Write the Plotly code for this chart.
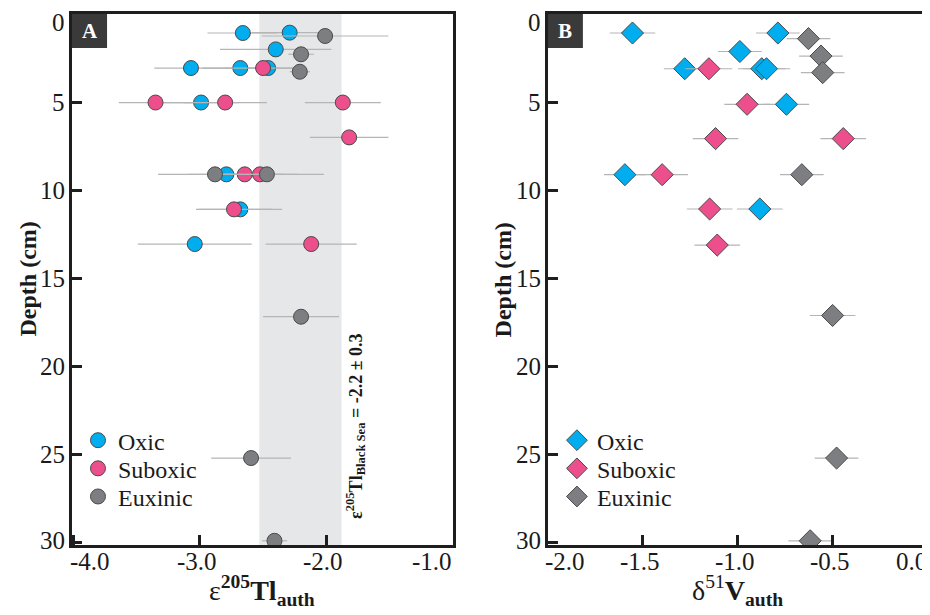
import plotly.graph_objects as go

# ---------------- data ----------------
# Panel A: epsilon205Tl_auth
oxic_A_x = [-2.66, -2.29, -2.40, -3.07, -2.68, -2.46, -2.99, -2.79, -2.68, -3.04]
oxic_A_y = [1.05, 1.03, 1.98, 3.04, 3.04, 3.04, 5.0, 9.08, 11.07, 13.04]
oxic_A_e = [0.28, 0.30, 0.44, 0.29, 0.30, 0.30, 0.30, 0.30, 0.33, 0.45]

subox_A_x = [-2.50, -3.35, -2.80, -1.87, -1.82, -2.645, -2.525, -2.73, -2.12]
subox_A_y = [3.04, 5.0, 5.0, 5.0, 6.98, 9.08, 9.08, 11.07, 13.04]
subox_A_e = [0.30, 0.29, 0.33, 0.30, 0.31, 0.30, 0.30, 0.30, 0.36]

eux_A_x = [-2.01, -2.20, -2.21, -2.88, -2.47, -2.20, -2.595, -2.41]
eux_A_y = [1.22, 2.26, 3.25, 9.08, 9.08, 17.17, 25.2, 29.9]
eux_A_e = [0.50, 0.10, 0.08, 0.45, 0.45, 0.30, 0.315, 0.10]

# Panel B: delta51V_auth
oxic_B_x = [-1.555, -0.79, -0.99, -1.28, -0.875, -0.85, -0.745, -1.595, -0.885]
oxic_B_y = [1.05, 1.05, 2.1, 3.08, 3.08, 3.08, 5.1, 9.1, 11.05]
oxic_B_e = [0.12, 0.115, 0.115, 0.11, 0.125, 0.125, 0.12, 0.11, 0.12]

subox_B_x = [-1.153, -0.952, -1.118, -0.446, -1.399, -1.149, -1.109]
subox_B_y = [3.08, 5.1, 7.05, 7.05, 9.1, 11.05, 13.1]
subox_B_e = [0.123, 0.12, 0.12, 0.12, 0.136, 0.12, 0.12]

eux_B_x = [-0.629, -0.563, -0.554, -0.664, -0.502, -0.481, -0.62]
eux_B_y = [1.37, 2.36, 3.3, 9.1, 17.1, 25.2, 29.9]
eux_B_e = [0.115, 0.115, 0.115, 0.115, 0.12, 0.115, 0.115]

band_center = -2.205
band_half = 0.325

xticks_A = [-4.0, -3.0, -2.0, -1.0]
xticks_B = [-2.0, -1.5, -1.0, -0.5, 0.0]
yticks = [0, 5, 10, 15, 20, 25, 30]

# ---------------- style ----------------
FONT = "Liberation Serif, Times New Roman, serif"
C_OX = "#00AEEF"
C_SUB = "#EC4F8C"
C_EUX = "#7d7e81"
EDGE = "#4a4a4a"
ERRC = "#b5b5b5"
TXT = "#1a1a1a"
TICK_SIZE = 25

fig = go.Figure()

def add(x, y, e, name, color, symbol, size, xa, ya, legend):
    fig.add_trace(go.Scatter(
        x=x, y=y, mode="markers", name=name,
        xaxis=xa, yaxis=ya, legend=legend, showlegend=True,
        marker=dict(color=color, symbol=symbol, size=size,
                    line=dict(color=EDGE, width=1)),
        error_x=dict(type="data", array=e, visible=True,
                     color=ERRC, thickness=1.2, width=0),
    ))

add(oxic_A_x, oxic_A_y, oxic_A_e, "Oxic", C_OX, "circle", 15, "x", "y", "legend")
add(subox_A_x, subox_A_y, subox_A_e, "Suboxic", C_SUB, "circle", 15, "x", "y", "legend2")
add(eux_A_x, eux_A_y, eux_A_e, "Euxinic", C_EUX, "circle", 15, "x", "y", "legend3")

add(oxic_B_x, oxic_B_y, oxic_B_e, "Oxic", C_OX, "diamond", 17, "x2", "y2", "legend4")
add(subox_B_x, subox_B_y, subox_B_e, "Suboxic", C_SUB, "diamond", 17, "x2", "y2", "legend5")
add(eux_B_x, eux_B_y, eux_B_e, "Euxinic", C_EUX, "diamond", 17, "x2", "y2", "legend6")

axis_common = dict(
    showline=True, linecolor="#1e1e1e", linewidth=2.5, mirror=True,
    ticks="inside", ticklen=10, tickwidth=2.5, tickcolor="#1e1e1e",
    showgrid=False, zeroline=False, automargin=False, showticklabels=False,
)

yrange = [30.14, -0.03]
legend_font = dict(family=FONT, size=24, color=TXT)

# page body has an 8px margin: figure is sized/offset to compensate
fig.update_layout(
    width=922, height=607,
    margin=dict(l=64, r=2, t=6, b=70),
    paper_bgcolor="white", plot_bgcolor="white",
    font=dict(family=FONT, size=24, color=TXT),
    xaxis=dict(domain=[0, 0.445], range=[-4.01, -1.0], tickvals=xticks_A,
               anchor="y", **axis_common),
    yaxis=dict(domain=[0, 1], range=yrange, tickvals=yticks, anchor="x", **axis_common),
    xaxis2=dict(domain=[0.556, 1.0], range=[-2.0, 0.0], tickvals=xticks_B,
                anchor="y2", **axis_common),
    yaxis2=dict(domain=[0, 1], range=yrange, tickvals=yticks, anchor="x2", **axis_common),
)

leg_x = {"A": 0.007, "B": 0.5665}
leg_y = [0.239, 0.186, 0.133]
legs = {}
for i, (panel, k) in enumerate([("A", 0), ("A", 1), ("A", 2), ("B", 0), ("B", 1), ("B", 2)]):
    key = "legend" if i == 0 else f"legend{i + 1}"
    legs[key] = dict(x=leg_x[panel], y=leg_y[k], xanchor="left", yanchor="top",
                     font=legend_font, bgcolor="rgba(0,0,0,0)", borderwidth=0)
fig.update_layout(**legs)

# shaded band
fig.add_shape(type="rect", xref="x", yref="y domain",
              x0=band_center - band_half, x1=band_center + band_half, y0=0, y1=1,
              fillcolor="#e6e7e9", line=dict(width=0), layer="below")

# panel label boxes
for xr, yr, letter in [("x domain", "y domain", "A"), ("x2 domain", "y2 domain", "B")]:
    fig.add_shape(type="rect", xref=xr, yref=yr, x0=0, x1=0.092, y0=0.936, y1=1,
                  fillcolor="#3a3a3a", line=dict(width=0), layer="above")
    fig.add_annotation(xref=xr, yref=yr, x=0.046, y=0.968, xanchor="center", yanchor="middle",
                       text=f"<b>{letter}</b>", showarrow=False,
                       font=dict(family=FONT, size=21, color="white"))

# x tick labels as annotations (edge labels nudged inward)
def xlabels(ticks, xr, yr):
    for i, t in enumerate(ticks):
        if i == 0:
            anchor, shift = "left", -5
        elif i == len(ticks) - 1:
            anchor, shift = "right", 1
        else:
            anchor, shift = "center", -3
        fig.add_annotation(xref=xr, yref=yr, x=t, y=0, yanchor="top", xanchor=anchor,
                           text=f"{t:.1f}", showarrow=False, yshift=-1, xshift=shift,
                           font=dict(family=FONT, size=TICK_SIZE, color=TXT))

# y tick labels as annotations (top label nudged inward)
def ylabels(ticks, xr, yr):
    for i, t in enumerate(ticks):
        shift = -8 if i == 0 else (2 if i == len(ticks) - 1 else 0)
        fig.add_annotation(xref=xr, yref=yr, x=0, y=t, xanchor="right", yanchor="middle",
                           text=f"{t:d}", showarrow=False, xshift=-5, yshift=shift,
                           font=dict(family=FONT, size=TICK_SIZE, color=TXT))

xlabels(xticks_A, "x", "y domain")
xlabels(xticks_B, "x2", "y2 domain")
ylabels(yticks, "x domain", "y")
ylabels(yticks, "x2 domain", "y2")

# y-axis titles
for xr, yr in [("x domain", "y domain"), ("x2 domain", "y2 domain")]:
    fig.add_annotation(xref=xr, yref=yr, x=0, y=0.5, xanchor="center", yanchor="middle",
                       textangle=-90, text="<b>Depth (cm)</b>", showarrow=False,
                       xshift=-45, font=dict(family=FONT, size=24, color=TXT))

# x-axis titles
fig.add_annotation(xref="x domain", yref="y domain", x=0.5, y=0, yanchor="top",
                   text="ε<sup><b>205</b></sup><b>Tl</b><sub><b>auth</b></sub>",
                   showarrow=False, yshift=-24,
                   font=dict(family=FONT, size=28, color=TXT))
fig.add_annotation(xref="x2 domain", yref="y2 domain", x=0.5, y=0, yanchor="top",
                   text="δ<sup>51</sup><b>V</b><sub><b>auth</b></sub>",
                   showarrow=False, yshift=-24,
                   font=dict(family=FONT, size=28, color=TXT))

# band annotation
fig.add_annotation(xref="x", yref="y", x=-1.77, y=23.35, textangle=-90,
                   text="<b>ε<sup>205</sup>Tl<sub>Black Sea</sub> = -2.2 ± 0.3</b>",
                   showarrow=False, font=dict(family=FONT, size=18, color=TXT))

fig.write_html("out.html")
